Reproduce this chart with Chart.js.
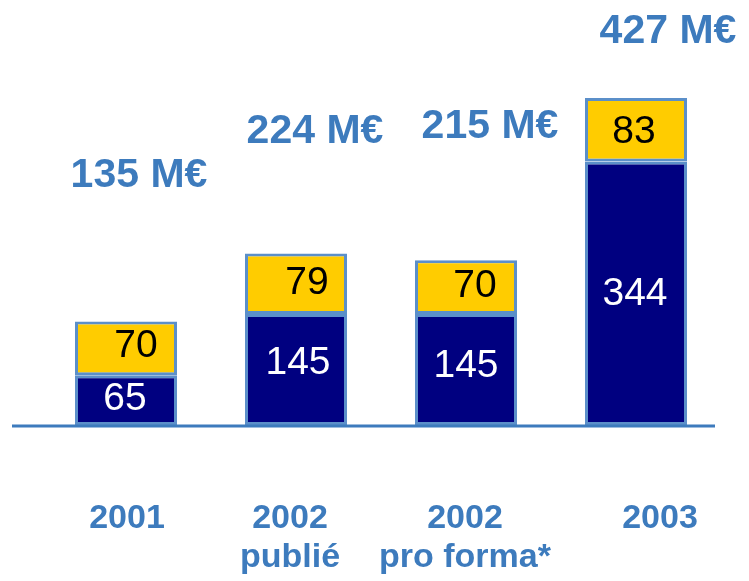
<!DOCTYPE html>
<html>
<head>
<meta charset="utf-8">
<script src="https://cdn.jsdelivr.net/npm/chart.js@4.4.0/dist/chart.umd.min.js"></script>
<style>
  html, body { margin: 0; padding: 0; background: #fff; }
  #wrap { width: 749px; height: 581px; }
</style>
</head>
<body>
<div id="wrap"><canvas id="chart"></canvas></div>
<script>
const categories = [["2001"], ["2002", "publié"], ["2002", "pro forma*"], ["2003"]];
const baseValues = [65, 145, 145, 344];
const topValues = [70, 79, 70, 83];
const totalLabels = ["135 M€", "224 M€", "215 M€", "427 M€"];

const blue = "#3d7bbd";
const font = "'Liberation Sans', Arial, sans-serif";

// little nudges so labels sit like in the original slide
const totalDx = [13, 19, 24, 32];
const totalDy = [-135, -110, -122, -55];
const catDx = [1, -6, -1, 24];
const topDx = [10, 11, 9, -2];
const topDy = [9, 10, 10, 13];
const baseDx = [-1, 2, 0, -1];
const baseDy = [10, 5, 8, 12];

const labelsPlugin = {
  id: "labels",
  afterDatasetsDraw(chart) {
    const ctx = chart.ctx;
    const x = chart.scales.x, y = chart.scales.y;
    const y0 = y.getPixelForValue(0);

    // baseline
    ctx.save();
    ctx.strokeStyle = blue;
    ctx.lineWidth = 3;
    ctx.beginPath();
    ctx.moveTo(12, y0 + 1);
    ctx.lineTo(715, y0 + 1);
    ctx.stroke();

    ctx.textAlign = "center";
    ctx.textBaseline = "alphabetic";
    categories.forEach((c, i) => {
      const cx = x.getPixelForValue(i);
      const mid = y.getPixelForValue(baseValues[i] / 2);
      const topMid = y.getPixelForValue(baseValues[i] + topValues[i] / 2);
      const total = y.getPixelForValue(baseValues[i] + topValues[i]);

      ctx.font = "39px " + font;
      ctx.fillStyle = "#fff";
      ctx.fillText(String(baseValues[i]), cx + baseDx[i], mid + baseDy[i]);
      ctx.fillStyle = "#000";
      ctx.fillText(String(topValues[i]), cx + topDx[i], topMid + topDy[i]);

      ctx.font = "bold 41px " + font;
      ctx.fillStyle = blue;
      ctx.fillText(totalLabels[i], cx + totalDx[i], total + totalDy[i]);

      ctx.font = "bold 34px " + font;
      c.forEach((line, k) => {
        ctx.fillText(line, cx + catDx[i], 528 + k * 39);
      });
    });
    ctx.restore();
  }
};

new Chart(document.getElementById("chart"), {
  type: "bar",
  data: {
    labels: categories,
    datasets: [
      {
        data: baseValues,
        backgroundColor: "#000080",
        borderColor: "#5b8fc9",
        borderWidth: 3,
        borderSkipped: false
      },
      {
        data: topValues,
        backgroundColor: "#ffcc00",
        borderColor: "#5b8fc9",
        borderWidth: 3,
        borderSkipped: false
      }
    ]
  },
  options: {
    responsive: true,
    maintainAspectRatio: false,
    animation: false,
    layout: { padding: { left: 41, right: 28, top: 0, bottom: 156 } },
    datasets: { bar: { barPercentage: 0.6, categoryPercentage: 1.0 } },
    plugins: { legend: { display: false }, tooltip: { enabled: false } },
    scales: {
      x: { stacked: true, display: false },
      y: { stacked: true, display: false, min: 0, max: 555 }
    }
  },
  plugins: [labelsPlugin]
});
</script>
</body>
</html>
